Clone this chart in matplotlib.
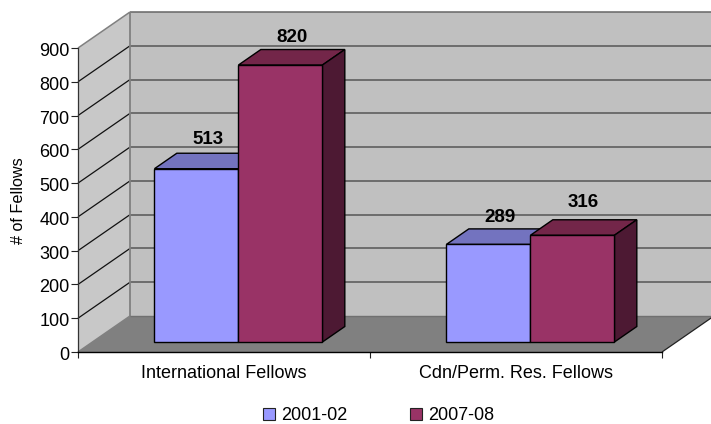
import matplotlib
matplotlib.use('Agg')
import matplotlib.pyplot as plt
from matplotlib.patches import Rectangle
from matplotlib.transforms import ScaledTranslation

plt.rcParams['font.family'] = ['Liberation Sans', 'DejaVu Sans']

# data
categories = ['International Fellows', 'Cdn/Perm. Res. Fellows']
years = ['2001-02', '2007-08']
fellows_2001 = [513, 289]
fellows_2007 = [820, 316]
y_ticks = [0, 100, 200, 300, 400, 500, 600, 700, 800, 900]

# colours: front, top, side of each bar
blue = ['#9999FF', '#7373BF', '#39397F']
wine = ['#993366', '#732649', '#4D1933']

W, H = 711, 424
fig = plt.figure(figsize=(W / 100, H / 100), dpi=100)
ax = fig.add_axes([78 / W, 1 - 352 / H, 584 / W, 304 / H])
ax.set_xlim(0, 2)
ax.set_ylim(0, 900)
ax.patch.set_visible(False)

# oblique depth: how far the back wall is shifted, in axis units
DX = 52 / 584 * 2
DY = 36 / 304 * 900
BAR_W = 84 / 584 * 2
D0, D1 = 0.278, 0.278 + 0.43


def pt(x, v, d=0.0):
    return x + d * DX, v + d * DY


def face(points, color, z, edge='none', lw=0.0):
    xs, ys = zip(*points)
    ax.fill(xs, ys, facecolor=color, edgecolor=edge, linewidth=lw, zorder=z,
            clip_on=False, joinstyle='miter')


def line(p, q, color, lw, z=2):
    ax.plot([p[0], q[0]], [p[1], q[1]], color=color, lw=lw, zorder=z,
            clip_on=False, solid_capstyle='butt')


# walls and floor
face([pt(0, 0), pt(0, 900), pt(0, 900, 1), pt(0, 0, 1)], '#C8C8C8', 1)
face([pt(0, 0, 1), pt(0, 900, 1), pt(2, 900, 1), pt(2, 0, 1)], '#C0C0C0', 1)
face([pt(0, 0), pt(0, 0, 1), pt(2, 0, 1), pt(2, 0)], '#808080', 1)

for t in y_ticks[1:-1]:
    line(pt(0, t), pt(0, t, 1), '#111111', 0.9)
    line(pt(0, t, 1), pt(2, t, 1), '#555555', 1.1)
line(pt(0, 900, 1), pt(2, 900, 1), '#666666', 1.1)
line(pt(0, 900), pt(0, 900, 1), '#808080', 1.1)
line(pt(0, 0), pt(0, 0, 1), '#808080', 1.1)
line(pt(0, 0, 1), pt(0, 900, 1), '#808080', 1.3)
line(pt(0, 0, 1), pt(2, 0, 1), '#707070', 1.0)
line(pt(2, 0), pt(2, 0, 1), '#222222', 0.9)


def bar(x0, value, colors, z, nudge):
    x1 = x0 + BAR_W
    e = dict(edge='black', lw=1.0)
    face([pt(x0, value, D0), pt(x0, value, D1), pt(x1, value, D1), pt(x1, value, D0)], colors[1], z, **e)
    face([pt(x1, 0, D0), pt(x1, value, D0), pt(x1, value, D1), pt(x1, 0, D1)], colors[2], z, **e)
    face([pt(x0, 0, D0), pt(x0, value, D0), pt(x1, value, D0), pt(x1, 0, D0)], colors[0], z + 0.1, **e)
    cx, cy = pt(x0 + BAR_W / 2, value, (D0 + D1) / 2)
    ax.annotate(str(value), (cx, cy), xytext=(0, 16 + nudge), textcoords='offset points',
                ha='center', va='center', fontsize=13.5, fontweight='bold',
                color='black', zorder=10, annotation_clip=False)


# label lift differs a little from bar to bar
nudge_2001 = [-0.5, -2]
nudge_2007 = [-1.5, 2]
for i in range(len(categories)):
    center = i + 0.5
    bar(center - BAR_W, fellows_2001[i], blue, 3 + i, nudge_2001[i])
    bar(center, fellows_2007[i], wine, 3.5 + i, nudge_2007[i])

# axes furniture
for s in ['top', 'right']:
    ax.spines[s].set_visible(False)
ax.spines['left'].set_color('#333333')
ax.spines['left'].set_linewidth(0.9)
ax.spines['left'].set_zorder(8)
ax.spines['bottom'].set_color('black')
ax.spines['bottom'].set_linewidth(1.0)
ax.spines['bottom'].set_zorder(8)
ax.set_yticks(y_ticks)
ax.set_xticks([0, 1, 2])
ax.set_xticklabels([])
ax.set_xticks([0.5, 1.5], minor=True)
ax.set_xticklabels(categories, minor=True, fontsize=13)
ax.tick_params(axis='x', which='minor', length=0, pad=9)
ax.tick_params(axis='x', which='major', length=4, width=0.8, color='#222222')
ax.tick_params(axis='y', length=5, width=0.8, labelsize=13, pad=1, color='#222222')
for lab in ax.get_yticklabels():
    lab.set_transform(lab.get_transform() + ScaledTranslation(0, -1.5 / 100, fig.dpi_scale_trans))
ax.set_ylabel('# of Fellows', fontsize=11.7)
ax.yaxis.set_label_coords(-52 / 584, 0.497)

handles = [Rectangle((0, 0), 1, 1, facecolor=blue[0], edgecolor='#222222', linewidth=0.8),
           Rectangle((0, 0), 1, 1, facecolor=wine[0], edgecolor='#222222', linewidth=0.8)]
fig.legend(handles, years, ncol=2, loc='center', bbox_to_anchor=(378.5 / W, 1 - 416 / H),
           frameon=False, fontsize=13, handlelength=0.66, handleheight=0.66,
           handletextpad=0.33, columnspacing=3.5)

fig.savefig('out.png', dpi=100)
